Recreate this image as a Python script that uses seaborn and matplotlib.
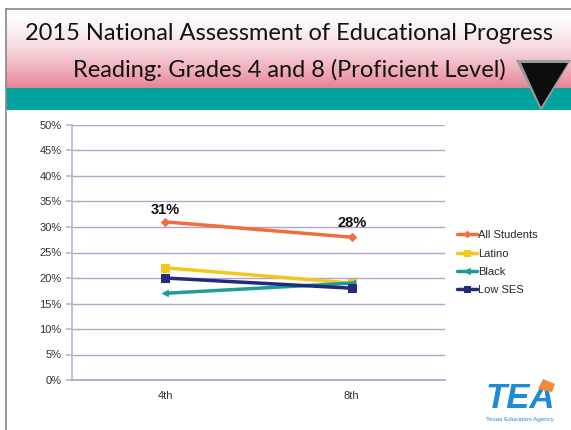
import numpy as np
import pandas as pd
import matplotlib
matplotlib.use("Agg")
import matplotlib.pyplot as plt
import seaborn as sns
from matplotlib.patches import Polygon, Rectangle
from matplotlib.lines import Line2D

grades = ["4th", "8th"]
all_students = [31, 28]
latino = [22, 19]
black = [17, 19]
low_ses = [20, 18]
series_names = ["All Students", "Latino", "Black", "Low SES"]
y_ticks = [0, 5, 10, 15, 20, 25, 30, 35, 40, 45, 50]

colors = {"All Students": "#f26d3d", "Latino": "#f2c81e", "Black": "#1e9c98", "Low SES": "#232a7c"}
markers = {"All Students": "D", "Latino": "s", "Black": "<", "Low SES": "s"}
msizes = {"All Students": 4, "Latino": 6, "Black": 5, "Low SES": 6}

df = pd.DataFrame({
    "grade": grades * 4,
    "value": all_students + latino + black + low_ses,
    "series": sum([[s] * 2 for s in series_names], []),
})

sns.set_theme(style="white")
plt.rcParams["font.family"] = ["Liberation Sans", "DejaVu Sans"]

W, H = 571, 430
fig = plt.figure(figsize=(W / 100, H / 100), dpi=100)
fig.patch.set_facecolor("white")

# header gradient band
bg = fig.add_axes([6 / W, 1 - 88 / H, 1 - 6 / W, 79 / H])
grad = np.linspace(0, 1, 256)[:, None]
top = np.array([1.0, 1.0, 1.0])
bot = np.array([0xe6, 0x84, 0x96]) / 255
img = top[None, None, :] * (1 - grad[..., None] ** 1.6) + bot[None, None, :] * (grad[..., None] ** 1.6)
bg.imshow(img, aspect="auto", extent=[0, 1, 0, 1], origin="upper")
bg.set_axis_off()

# teal band
fig.patches.append(Rectangle((6 / W, 1 - 110 / H), 1, 22 / H, transform=fig.transFigure,
                             facecolor="#00a39e", edgecolor="none", zorder=1))
# frame lines
fig.add_artist(Line2D([6 / W, 6 / W], [0, 1 - 9 / H], color="#888888", lw=1.2))
fig.add_artist(Line2D([6 / W, 1], [1 - 9 / H, 1 - 9 / H], color="#888888", lw=1.2))

# triangle logo
fig.patches.append(Polygon([[516 / W, 1 - 60 / H], [571 / W, 1 - 60 / H], [541 / W, 1 - 111 / H]],
                           closed=True, transform=fig.transFigure, facecolor="#9a9a9a",
                           edgecolor="none", zorder=3))
fig.patches.append(Polygon([[521 / W, 1 - 63 / H], [568 / W, 1 - 63 / H], [541 / W, 1 - 107 / H]],
                           closed=True, transform=fig.transFigure, facecolor="#0d0d0d",
                           edgecolor="none", zorder=3))

fig.text(289 / W, 1 - 34 / H, "2015 National Assessment of Educational Progress",
         ha="center", va="center", fontsize=17, color="#111111", family=["Lato", "DejaVu Sans"])
fig.text(289 / W, 1 - 70 / H, "Reading: Grades 4 and 8 (Proficient Level)",
         ha="center", va="center", fontsize=17, color="#111111", family=["Lato", "DejaVu Sans"])

ax = fig.add_axes([72 / W, 1 - 380 / H, (445 - 72) / W, (380 - 125) / H])
for s in series_names:
    sub = df[df.series == s]
    sns.lineplot(data=sub, x="grade", y="value", ax=ax, color=colors[s], lw=2.5,
                 marker=markers[s], markersize=msizes[s], markeredgecolor=colors[s],
                 label=s, sort=False)

ax.set_xlim(-0.5, 1.5)
ax.set_ylim(0, 50)
ax.set_yticks(y_ticks)
ax.set_yticklabels([f"{v}%" for v in y_ticks])
ax.set_xlabel("")
ax.set_ylabel("")
ax.yaxis.grid(True, color="#b4a3c4", lw=1)
ax.set_axisbelow(True)
for sp in ["top", "right"]:
    ax.spines[sp].set_visible(False)
ax.spines["left"].set_color("#c2b4d0")
ax.spines["bottom"].set_color("#b4a3c4")
ax.tick_params(axis="both", labelsize=8, colors="#333333", length=4, color="#c2b4d0", left=True, bottom=True)
ax.tick_params(axis="x", length=0, pad=8)

ax.annotate(f"{all_students[0]}%", (0, all_students[0]), xytext=(0, 6), textcoords="offset points",
            ha="center", fontsize=10.5, fontweight="bold", color="#111111")
ax.annotate(f"{all_students[1]}%", (1, all_students[1]), xytext=(0, 7), textcoords="offset points",
            ha="center", fontsize=10.5, fontweight="bold", color="#111111")

leg = ax.legend(loc="center left", bbox_to_anchor=(1.02, 0.46), frameon=False, fontsize=8,
                handlelength=1.8, handletextpad=0.1, labelspacing=0.75, borderaxespad=0,
                markerscale=0.8)

# TEA logo
fig.text(520 / W, 1 - 399 / H, "TEA", ha="center", va="center", fontsize=25, fontweight="bold",
         fontstyle="italic", color="#1e8bd6", family=["Liberation Sans"])
fig.patches.append(Polygon([[538 / W, 1 - 389 / H], [543 / W, 1 - 379 / H], [555 / W, 1 - 384 / H],
                            [552 / W, 1 - 392 / H]], closed=True, transform=fig.transFigure,
                           facecolor="#f28a3a", edgecolor="none", zorder=4))
fig.text(520 / W, 1 - 419 / H, "Texas Education Agency", ha="center", va="center", fontsize=4.5,
         color="#1e8bd6")

fig.savefig("out.png", dpi=100)
